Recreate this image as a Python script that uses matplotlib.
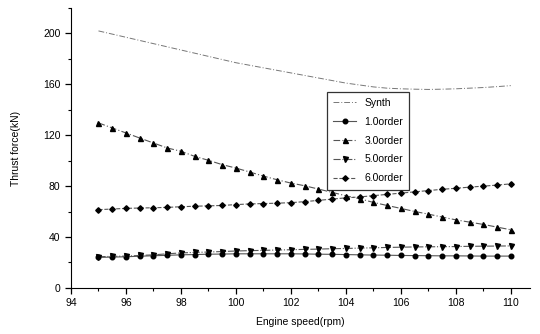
import matplotlib.pyplot as plt
import numpy as np
from matplotlib.ticker import MultipleLocator

plt.rcParams["font.family"] = ["Liberation Sans", "DejaVu Sans"]

# engine speed (rpm), 0.5 step
speed = np.arange(95.0, 110.01, 0.5)

synth = [202, 199.5, 197, 194.5, 192, 189.5, 187, 184.5, 182, 179.5,
         177, 175, 173, 171, 169, 167, 165, 163, 161, 159.5,
         158, 157, 156.5, 156.2, 156, 156.2, 156.5, 157, 157.5, 158.2, 159]
order_1 = [24, 24.2, 24.5, 24.9, 25.3, 25.6, 26, 26.2, 26.5, 26.6,
           26.8, 26.8, 26.8, 26.8, 26.8, 26.7, 26.5, 26.4, 26.2, 26,
           25.8, 25.7, 25.5, 25.4, 25.3, 25.2, 25.2, 25.1, 25, 25, 25]
order_3 = [129.7, 125.7, 121.8, 117.8, 113.9, 110.0, 107.4, 103.4, 100.3, 96.9,
           94.2, 91.1, 87.9, 85.0, 82.4, 80.3, 77.7, 75.1, 72.4, 70.1,
           67.2, 64.8, 62.5, 60.1, 58.0, 55.7, 53.5, 51.7, 49.9, 47.8, 45.7]
order_5 = [24.5, 24.8, 25, 25.5, 26, 26.8, 27.5, 27.9, 28.2, 28.6,
           29, 29.3, 29.5, 29.8, 30, 30.3, 30.5, 30.8, 31, 31.3,
           31.5, 31.8, 32, 32.2, 32.3, 32.4, 32.5, 32.7, 32.8, 32.9, 33]
order_6 = [61.5, 62, 62.5, 62.8, 63, 63.3, 63.8, 64.2, 64.5, 64.8,
           65.5, 66, 66.3, 66.6, 67, 67.8, 68.8, 69.8, 70.8, 71.5,
           72.5, 73.5, 74.5, 75.5, 76.5, 77.5, 78.3, 79.2, 80, 80.8, 81.8]

fig = plt.figure(figsize=(5.4, 3.34), dpi=100)
ax = fig.add_axes([0.1315, 0.138, 0.85, 0.838])

lc = "#555555"
ax.plot(speed, synth, color="#777777", lw=0.7, ls=(0, (6, 2, 1, 2)), label="Synth")
ax.plot(speed, order_1, color=lc, lw=0.8, ls="-", marker="o", ms=3.3,
        mfc="black", mec="black", label="1.0order")
ax.plot(speed, order_3, color=lc, lw=0.8, ls=(0, (6, 2, 1, 2)), marker="^", ms=3.6,
        mfc="black", mec="black", label="3.0order")
ax.plot(speed, order_5, color=lc, lw=0.8, ls="-.", marker="v", ms=3.6,
        mfc="black", mec="black", label="5.0order")
ax.plot(speed, order_6, color=lc, lw=0.8, ls="--", marker="D", ms=2.8,
        mfc="black", mec="black", label="6.0order")

ax.set_xlim(94, 110.7)
ax.set_ylim(0, 220)
ax.xaxis.set_major_locator(MultipleLocator(2))
ax.xaxis.set_minor_locator(MultipleLocator(1))
ax.yaxis.set_major_locator(MultipleLocator(40))
ax.yaxis.set_minor_locator(MultipleLocator(20))
ax.spines["top"].set_visible(False)
ax.spines["right"].set_visible(False)
ax.tick_params(which="major", direction="out", length=4, width=0.9, labelsize=7.5)
ax.tick_params(which="minor", direction="out", length=2.5, width=0.8)

ax.set_xlabel("Engine speed(rpm)", fontsize=7.5, labelpad=6)
ax.set_ylabel("Thrust force(kN)", fontsize=7.5, labelpad=16)

leg = ax.legend(loc="upper left", bbox_to_anchor=(0.546, 0.72), fontsize=7.5,
                frameon=True, fancybox=False, edgecolor="black", handlelength=2.2,
                labelspacing=0.85, borderpad=0.6)
leg.get_frame().set_linewidth(0.9)

fig.savefig("out.png", dpi=100)
